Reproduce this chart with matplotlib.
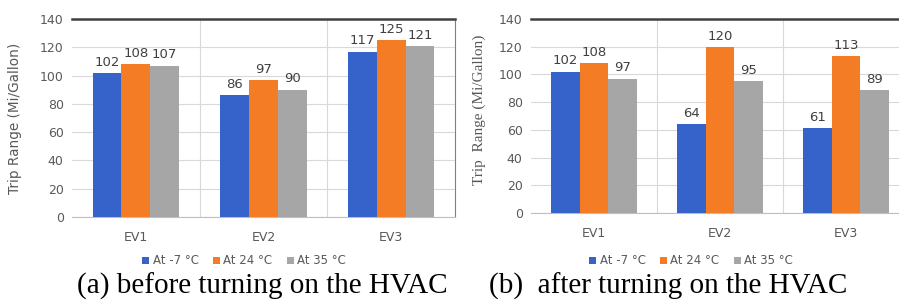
import numpy as np
import matplotlib.pyplot as plt

categories = ["EV1", "EV2", "EV3"]
series_names = ["At -7 °C", "At 24 °C", "At 35 °C"]
before_hvac = [[102, 86, 117], [108, 97, 125], [107, 90, 121]]
after_hvac = [[102, 64, 61], [108, 120, 113], [97, 95, 89]]
y_ticks = [0, 20, 40, 60, 80, 100, 120, 140]
captions = ["(a) before turning on the HVAC", "(b)  after turning on the HVAC"]

colors = ["#3563c9", "#f47c25", "#a6a6a6"]
sans = ["DejaVu Sans"]
serif = ["Liberation Serif", "DejaVu Serif"]

fig = plt.figure(figsize=(8.99, 3.01), dpi=100)


def draw_panel(ax, data, ylabel, ylabel_family):
    x = np.arange(len(categories))
    w = 0.225
    for k, vals in enumerate(data):
        pos = x + (k - 1) * w
        ax.bar(pos, vals, width=w, color=colors[k], label=series_names[k], zorder=3)
        for px, v in zip(pos, vals):
            ax.text(px, v + 3, str(v), ha="center", va="bottom", fontsize=9.5,
                    color="#404040", family=sans)
    ax.set_xlim(-0.5, len(categories) - 0.5)
    ax.set_ylim(0, 140)
    ax.set_yticks(y_ticks)
    ax.set_xticks(x)
    ax.set_xticklabels(categories, family=sans, fontsize=9, color="#595959")
    for lab in ax.get_yticklabels():
        lab.set_family(sans)
        lab.set_fontsize(9)
        lab.set_color("#595959")
    ax.tick_params(length=0, pad=6)
    ax.tick_params(axis="x", pad=10)
    ax.grid(axis="y", color="#d9d9d9", linewidth=0.8, zorder=0)
    # category separators
    for s in x[:-1] + 0.5:
        ax.axvline(s, color="#d9d9d9", linewidth=0.8, zorder=0)
    for sp in ["left", "right"]:
        ax.spines[sp].set_visible(False)
    ax.spines["bottom"].set_color("#bfbfbf")
    ax.spines["top"].set_color("#404040")
    ax.spines["top"].set_linewidth(1.8)
    if ylabel_family is sans:
        ax.set_ylabel(ylabel, family=sans, color="#595959", fontsize=9.8)
    else:
        ax.set_ylabel(ylabel, family=serif, color="#595959", fontsize=11)


ax1 = fig.add_axes([72 / 899, 84 / 301, 383 / 899, 198 / 301])
draw_panel(ax1, before_hvac, "Trip Range (Mi/Gallon)", sans)
ax1.spines["right"].set_visible(True)
ax1.spines["right"].set_color("#808080")
ax1.yaxis.set_label_coords(-0.13, 0.5)

ax2 = fig.add_axes([531 / 899, 88 / 301, 378 / 899, 194 / 301])
draw_panel(ax2, after_hvac, "Trip  Range (Mi/Gallon)", serif)
ax2.yaxis.set_label_coords(-0.12, 0.53)

for ax, cx in [(ax1, 244 / 899), (ax2, 691 / 899)]:
    h, l = ax.get_legend_handles_labels()
    fig.legend(h, l, loc="center", bbox_to_anchor=(cx, 1 - 261 / 301), ncol=3,
               frameon=False, prop={"family": sans, "size": 8.5},
               labelcolor="#595959", handlelength=0.6, handleheight=0.6,
               handletextpad=0.3, columnspacing=1.2)

fig.text(262 / 899, 1 - 294 / 301, captions[0], ha="center", va="baseline",
         family=serif, fontsize=21)
fig.text(668 / 899, 1 - 294 / 301, captions[1], ha="center", va="baseline",
         family=serif, fontsize=21)

fig.savefig("out.png", dpi=100)
